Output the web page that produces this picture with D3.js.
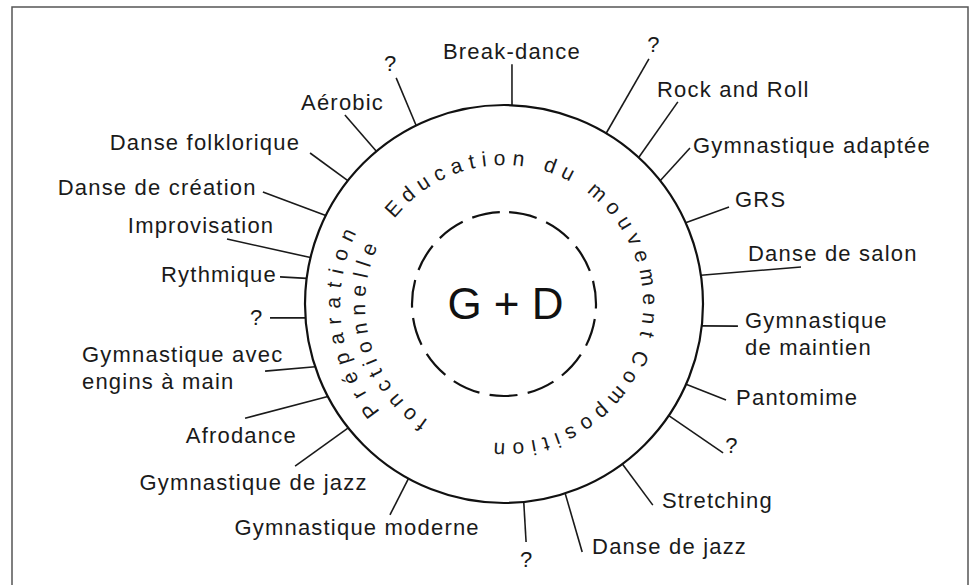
<!DOCTYPE html>
<html>
<head>
<meta charset="utf-8">
<script src="https://cdn.jsdelivr.net/npm/d3@7"></script>
<style>
  html, body { margin: 0; padding: 0; background: #fff; }
  svg { display: block; font-family: "Liberation Sans", Arial, Helvetica, sans-serif; }
</style>
</head>
<body>
<div id="chart"></div>
<script>
// activities placed round the circle, clockwise from the top
const labels = [
  'Break-dance', '?', 'Rock and Roll', 'Gymnastique adaptée', 'GRS',
  'Danse de salon', 'Gymnastique\nde maintien', 'Pantomime', '?', 'Stretching',
  'Danse de jazz', '?', 'Gymnastique moderne', 'Gymnastique de jazz', 'Afrodance',
  'Gymnastique avec\nengins à main', '?', 'Rythmique', 'Improvisation',
  'Danse de création', 'Danse folklorique', 'Aérobic', '?'
];
// degrees clockwise from 12 o'clock where the spoke leaves the circle
const touchAngles = [2.3, 30.9, 42.6, 51.7, 65.9, 81.7, 96.3, 113.8, 124.1, 143.5,
  162.1, 174.3, 208.7, 231.5, 242.3, 251.6, 266.0, 277.4, 283.5, 296.4, 308.3, 320.1, 333.8];
// outer end of each spoke (angle, radius in circle units, circle = 199)
const endAngles = [1.9, 30.6, 40.7, 50.0, 66.7, 82.9, 95.4, 113.4, 124.2, 143.5,
  162.5, 174.7, 208.4, 232.2, 246.2, 254.3, 266.6, 276.9, 283.2, 294.9, 307.9, 319.9, 334.5];
const endRadii = [240, 284.7, 266.6, 242.8, 245, 299.3, 235, 241.9, 264.9, 250.2,
  260, 239, 239.8, 264.4, 283, 248.2, 234.4, 225.6, 284.5, 265.8, 245.8, 247, 250.5];
// where each label sits
const labelAngles = [1.8, 30.0, 35.5, 49.9, 65.7, 78.3, 93.8, 111.8, 121.7, 141.2,
  160.0, 174.9, 213.3, 234.6, 243.5, 263.2, 266.9, 277.4, 284.5, 295.3, 308.4, 321.3, 334.8];
const labelRadii = [253, 299.7, 263.5, 247, 253.5, 249.2, 241.5, 250, 268, 252,
  257.5, 256.5, 267.5, 307.3, 293.5, 425, 247.7, 228.9, 312.9, 273.6, 260.2, 258.2, 265.9];
const labelAnchors = ['middle', 'middle', 'start', 'start', 'start', 'start', 'start', 'start',
  'middle', 'start', 'start', 'middle', 'middle', 'middle', 'middle', 'start', 'middle',
  'end', 'middle', 'end', 'end', 'middle', 'middle'];

// words written round the inside of the circle
const innerWords = ['fonctionnelle', 'Education du mouvement', 'Composition'];
const innerMidAngles = [253.7, 385.25, 506.2];
const outerWords = ['Préparation'];
const outerMidAngles = [262.3];

const centerLabel = 'G + D';

const width = 975;
const height = 585;
const cx = 504;
const cy = 304;
const R = 199;

const svg = d3
  .select('#chart')
  .append('svg')
  .attr('width', width)
  .attr('height', height);

// frame
svg
  .append('rect')
  .attr('x', 12)
  .attr('y', 7)
  .attr('width', 956)
  .attr('height', 620)
  .attr('fill', 'none')
  .attr('stroke', '#555')
  .attr('stroke-width', 1.5);

const angle = d3.scaleLinear().domain([0, 360]).range([0, 2 * Math.PI]);
const radius = d3.scaleLinear().domain([0, 199]).range([0, R]);

function polar(a, r) {
  const t = angle(a);
  return [cx + radius(r) * Math.sin(t), cy - radius(r) * Math.cos(t)];
}

const items = labels.map((d, i) => ({
  label: d,
  a0: touchAngles[i],
  a1: endAngles[i],
  r1: endRadii[i],
  la: labelAngles[i],
  lr: labelRadii[i],
  anchor: labelAnchors[i]
}));

// spokes
svg
  .append('g')
  .selectAll('line')
  .data(items)
  .join('line')
  .attr('x1', (d) => polar(d.a0, 199)[0])
  .attr('y1', (d) => polar(d.a0, 199)[1])
  .attr('x2', (d) => polar(d.a1, d.r1)[0])
  .attr('y2', (d) => polar(d.a1, d.r1)[1])
  .attr('stroke', '#1a1a1a')
  .attr('stroke-width', 1.6);

// main circle
svg
  .append('circle')
  .attr('cx', cx)
  .attr('cy', cy)
  .attr('r', radius(199))
  .attr('fill', 'none')
  .attr('stroke', '#111')
  .attr('stroke-width', 2.2);

// dashed inner circle, gap at the top
const dashR = radius(92);
const dashArc = d3.arc()({
  innerRadius: 0,
  outerRadius: dashR,
  startAngle: 0,
  endAngle: 2 * Math.PI
});
const period = (2 * Math.PI * dashR) / 15;
svg
  .append('path')
  .attr('transform', `translate(${cx},${cy})`)
  .attr('d', dashArc)
  .attr('fill', 'none')
  .attr('stroke', '#111')
  .attr('stroke-width', 2.2)
  .attr('stroke-dasharray', `${period * 0.73} ${period * 0.27}`)
  .attr('stroke-dashoffset', period * 0.73 + period * 0.135);

// labels
const texts = svg
  .append('g')
  .selectAll('text')
  .data(items)
  .join('text')
  .attr('x', (d) => polar(d.la, d.lr)[0])
  .attr('y', (d) => polar(d.la, d.lr)[1])
  .attr('text-anchor', (d) => d.anchor)
  .style('font-size', '22px')
  .style('letter-spacing', '1.2px')
  .style('fill', '#1a1a1a');

texts.each(function (d) {
  const el = d3.select(this);
  const [x] = polar(d.la, d.lr);
  d.label.split('\n').forEach((line, j) => {
    el.append('tspan')
      .attr('x', x)
      .attr('dy', j === 0 ? '0.35em' : '27px')
      .text(line);
  });
});

// rings of curved text
const ringStart = 200;
function ringPath(r) {
  const p = d3.path();
  const s = angle(ringStart) - Math.PI / 2;
  const [x0, y0] = polar(ringStart, r);
  p.moveTo(x0, y0);
  p.arc(cx, cy, radius(r), s, s + 2 * Math.PI - 1e-4);
  return p.toString();
}

const defs = svg.append('defs');
defs.append('path').attr('id', 'ring-inner').attr('d', ringPath(139));
defs.append('path').attr('id', 'ring-outer').attr('d', ringPath(164));

function ringText(words, mids, r, id, spacing) {
  svg
    .append('g')
    .selectAll('text')
    .data(words)
    .join('text')
    .attr('text-anchor', 'middle')
    .style('font-size', '21px')
    .style('letter-spacing', `${spacing}px`)
    .style('fill', '#1a1a1a')
    .append('textPath')
    .attr('href', `#${id}`)
    .attr('startOffset', (d, i) => angle(mids[i] - ringStart) * radius(r) + spacing / 2)
    .text((d) => d);
}

ringText(innerWords, innerMidAngles, 139, 'ring-inner', 6.6);
ringText(outerWords, outerMidAngles, 164, 'ring-outer', 8.2);

// centre
svg
  .append('text')
  .attr('x', cx + 1.5)
  .attr('y', cy)
  .attr('dy', '0.35em')
  .attr('text-anchor', 'middle')
  .style('font-size', '44px')
  .style('fill', '#111')
  .text(centerLabel);
</script>
</body>
</html>
